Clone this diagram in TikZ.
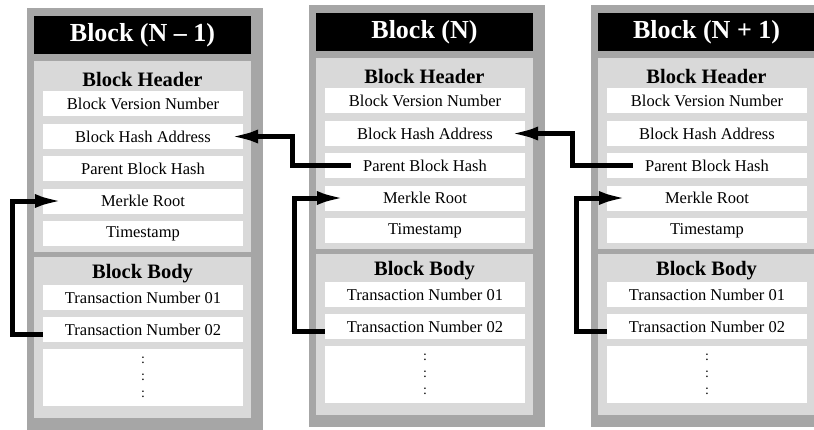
\documentclass[tikz,border=0pt]{standalone}
\usepackage{fontspec}
\setmainfont{Liberation Serif}
\usetikzlibrary{arrows.meta}
\definecolor{outergray}{RGB}{166,166,166}
\definecolor{innergray}{RGB}{217,217,217}

\begin{document}
\begin{tikzpicture}[x=1pt,y=-1pt,
blockbg/.style={fill=outergray,minimum width=236,minimum height=422,inner sep=0},
titlebox/.style={fill=black,text=white,font=\fontsize{26}{30}\selectfont\bfseries,
minimum width=217,minimum height=38,inner sep=0},
region/.style={fill=innergray,minimum width=217,inner sep=0},
caption/.style={font=\fontsize{20.5}{24}\selectfont\bfseries,inner sep=0},
field/.style={fill=white,minimum width=200,minimum height=25,inner sep=0,
font=\fontsize{16.5}{19}\selectfont},
link/.style={line width=5pt,-{Latex[length=28pt,width=14pt]}}]
\useasboundingbox (0,0) rectangle (814,429);
\clip (0,0) rectangle (814,429);
% one column per block
\foreach \i/\xo/\dy/\ttl in {1/27/3/{Block (N – 1)},2/309/0/{Block (N)},3/591/0/{Block (N + 1)}}{
\begin{scope}[shift={(\xo,\dy)}]
\node[blockbg] (b\i) at (118,216) {};
\node[titlebox] (b\i-title) at (115.5,32) {\ttl};
\node[region,minimum height=191] (b\i-head) at (115.5,153.5) {};
\node[caption] (b\i-headcap) at (115.5,76) {Block Header};
\node[field] (b\i-ver) at (116,100.5) {Block Version Number};
\node[field] (b\i-hash) at (116,133.5) {Block Hash Address};
\node[field] (b\i-par) at (116,165.5) {Parent Block Hash};
\node[field] (b\i-mrk) at (116,198) {Merkle Root};
\node[field] (b\i-ts) at (116,230.5) {Timestamp};
\node[region,minimum height=161] (b\i-body) at (115.5,334.5) {};
\node[caption] (b\i-bodycap) at (115.5,271) {Block Body};
\node[field] (b\i-tx1) at (116,294.5) {Transaction Number 01};
\node[field] (b\i-tx2) at (116,326.5) {Transaction Number 02};
\node[field,minimum height=57,align=center,font=\fontsize{14}{17}\selectfont] (b\i-dots) at (116,374.5) {:\\:\\:};
\end{scope}
}
% hash links
\draw[link] ([xshift=26pt]b2-par.west) -- ++(-58,0) |- ([xshift=-13pt]b1-hash.east);
\draw[link] ([xshift=26pt]b3-par.west) -- ++(-60,0) |- ([xshift=-15pt]b2-hash.east);
% transactions to merkle root
\foreach \i in {1,2,3}
\draw[link] ([yshift=-5pt]b\i-tx2.west) -- ++(-30,0) |- ([xshift=20pt]b\i-mrk.west);
\end{tikzpicture}
\end{document}
